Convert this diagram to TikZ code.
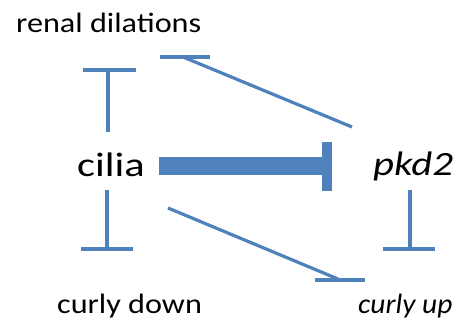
\documentclass[tikz,border=0pt]{standalone}
\usepackage{fontspec}
\setmainfont{Carlito}
\definecolor{cblue}{HTML}{4F81BD}
\begin{document}
\begin{tikzpicture}[x=1pt,y=-1pt,
  conn/.style={draw=cblue,line width=3.2pt},
  barline/.style={draw=cblue,line width=3.6pt},
  small/.style={inner sep=0pt,anchor=base west,font=\fontsize{28}{30}\selectfont},
  big/.style={inner sep=0pt,anchor=base west,font=\fontsize{34}{36}\selectfont}]
\useasboundingbox (0,0) rectangle (465,320);
% labels
\node[small] (renal) at (16,33) {\scalebox{1.15}[1]{renal dilations}};
\node[big] (cilia) at (77,177) {\scalebox{1.25}[1]{cilia}};
\node[big] (pkd) at (373,176) {\scalebox{1.2}[1]{\itshape pkd2}};
\node[small] (cdown) at (57,313) {\scalebox{1.15}[1]{curly down}};
\node[small] (cup) at (358,313) {\scalebox{1.05}[1]{\itshape curly up}};
% coordinates
\coordinate (c1) at (108,132); \coordinate (r1) at (108,70);
\coordinate (r1l) at (83,70); \coordinate (r1r) at (136,70);
\coordinate (c2) at (159,166); \coordinate (p1) at (322,166);
\coordinate (p1t) at (322,142); \coordinate (p1b) at (332,191);
\coordinate (p2) at (352,127); \coordinate (r2) at (183,57);
\coordinate (r2l) at (160,57); \coordinate (r2r) at (210,57);
\coordinate (c3) at (107,190); \coordinate (d1) at (107,249);
\coordinate (d1l) at (81,249); \coordinate (d1r) at (133,249);
\coordinate (p3) at (410,190); \coordinate (u1) at (410,249);
\coordinate (u1l) at (383,249); \coordinate (u1r) at (435,249);
\coordinate (c4) at (168,208); \coordinate (u2) at (338,279);
\coordinate (u2l) at (315,280); \coordinate (u2r) at (365,280);
% connectors
\draw[conn] (c1) -- (r1); \draw[barline] (r1l) -- (r1r);
\draw[draw=cblue,line width=18pt] (c2) -- (p1);
\fill[cblue] (p1t) rectangle (p1b);
\draw[conn] (p2) -- (r2); \draw[barline] (r2l) -- (r2r);
\draw[conn] (c3) -- (d1); \draw[barline] (d1l) -- (d1r);
\draw[conn] (p3) -- (u1); \draw[barline] (u1l) -- (u1r);
\draw[conn] (c4) -- (u2); \draw[barline] (u2l) -- (u2r);
\end{tikzpicture}
\end{document}
